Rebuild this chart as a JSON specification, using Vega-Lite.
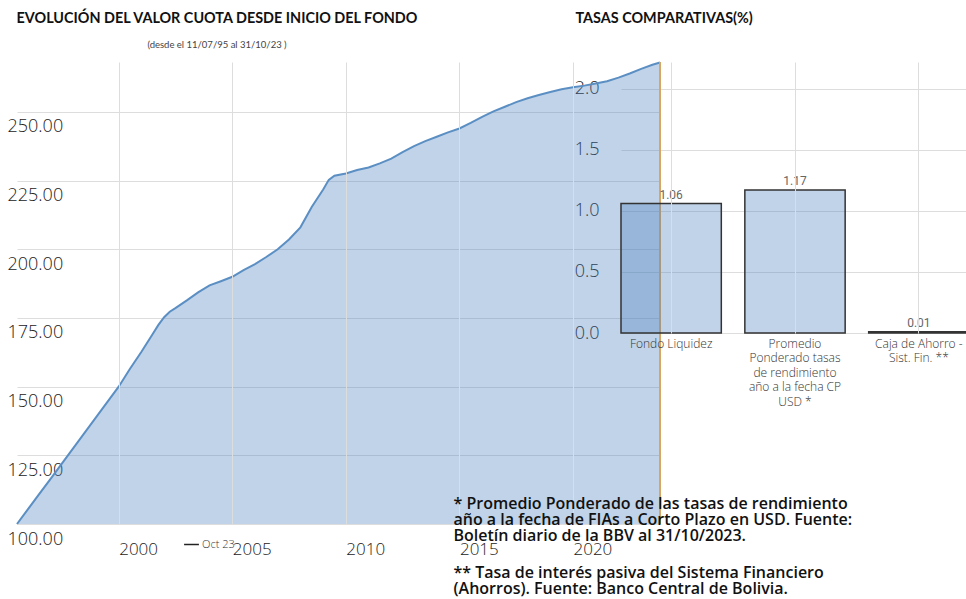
{
  "$schema": "https://vega.github.io/schema/vega-lite/v6.json",
  "autosize": "none",
  "width": 950,
  "height": 462,
  "padding": {"left": 16, "top": 62, "right": 0, "bottom": 75},
  "background": "white",
  "config": {"view": {"stroke": null}, "font": "Open Sans"},
  "title": {
    "text": "EVOLUCIÓN DEL VALOR CUOTA DESDE INICIO DEL FONDO",
    "subtitle": "(desde el 11/07/95 al 31/10/23 )",
    "anchor": "start",
    "align": "center",
    "frame": "group",
    "dx": 201,
    "offset": -40,
    "font": "Lato",
    "fontSize": 14.4,
    "fontWeight": "bold",
    "color": "#111111",
    "subtitleFont": "Lato",
    "subtitleFontSize": 9.5,
    "subtitleColor": "#444444",
    "subtitlePadding": 13
  },
  "resolve": {"scale": {"x": "independent", "y": "independent", "color": "independent"}, "axis": {"x": "independent", "y": "independent"}},
  "layer": [
    {
      "data": {"values": [
        {"fecha": "1995-07-11", "valor": 100.0},
        {"fecha": "1996-01-01", "valor": 105.3},
        {"fecha": "1996-07-01", "valor": 110.9},
        {"fecha": "1997-01-01", "valor": 116.4},
        {"fecha": "1997-07-01", "valor": 122.0},
        {"fecha": "1998-01-01", "valor": 127.6},
        {"fecha": "1998-07-01", "valor": 133.2},
        {"fecha": "1999-01-01", "valor": 138.8},
        {"fecha": "1999-07-01", "valor": 144.4},
        {"fecha": "2000-01-01", "valor": 150.0},
        {"fecha": "2000-07-01", "valor": 156.5},
        {"fecha": "2001-01-01", "valor": 162.7},
        {"fecha": "2001-07-01", "valor": 169.2},
        {"fecha": "2001-10-01", "valor": 172.5},
        {"fecha": "2002-01-01", "valor": 175.3},
        {"fecha": "2002-04-01", "valor": 177.3},
        {"fecha": "2002-07-01", "valor": 178.6},
        {"fecha": "2003-01-01", "valor": 181.4},
        {"fecha": "2003-07-01", "valor": 184.3},
        {"fecha": "2004-01-01", "valor": 186.9},
        {"fecha": "2004-07-01", "valor": 188.4},
        {"fecha": "2005-01-01", "valor": 190.0},
        {"fecha": "2005-07-01", "valor": 192.4},
        {"fecha": "2006-01-01", "valor": 194.6},
        {"fecha": "2006-07-01", "valor": 197.2},
        {"fecha": "2007-01-01", "valor": 200.0},
        {"fecha": "2007-07-01", "valor": 203.6},
        {"fecha": "2008-01-01", "valor": 208.0},
        {"fecha": "2008-07-01", "valor": 215.4},
        {"fecha": "2009-01-01", "valor": 221.8},
        {"fecha": "2009-04-01", "valor": 225.3},
        {"fecha": "2009-07-01", "valor": 226.8},
        {"fecha": "2010-01-01", "valor": 227.6},
        {"fecha": "2010-07-01", "valor": 228.9},
        {"fecha": "2011-01-01", "valor": 229.8},
        {"fecha": "2011-07-01", "valor": 231.3},
        {"fecha": "2012-01-01", "valor": 233.0},
        {"fecha": "2012-07-01", "valor": 235.4},
        {"fecha": "2013-01-01", "valor": 237.6},
        {"fecha": "2013-07-01", "valor": 239.4},
        {"fecha": "2014-01-01", "valor": 241.0},
        {"fecha": "2014-07-01", "valor": 242.6},
        {"fecha": "2015-01-01", "valor": 244.0},
        {"fecha": "2015-07-01", "valor": 246.0},
        {"fecha": "2016-01-01", "valor": 248.2},
        {"fecha": "2016-07-01", "valor": 250.2},
        {"fecha": "2017-01-01", "valor": 251.9},
        {"fecha": "2017-07-01", "valor": 253.6},
        {"fecha": "2018-01-01", "valor": 255.0},
        {"fecha": "2018-07-01", "valor": 256.2},
        {"fecha": "2019-01-01", "valor": 257.3},
        {"fecha": "2019-07-01", "valor": 258.3},
        {"fecha": "2020-01-01", "valor": 259.0},
        {"fecha": "2020-07-01", "valor": 259.6},
        {"fecha": "2021-01-01", "valor": 260.4},
        {"fecha": "2021-07-01", "valor": 261.2},
        {"fecha": "2022-01-01", "valor": 262.5},
        {"fecha": "2022-07-01", "valor": 264.0},
        {"fecha": "2023-01-01", "valor": 265.7},
        {"fecha": "2023-07-01", "valor": 267.2},
        {"fecha": "2023-10-31", "valor": 268.0}
      ]},
      "encoding": {
        "x": {
          "field": "fecha",
          "type": "temporal",
          "scale": {
            "type": "utc",
            "domain": [{"year": 1995, "month": 7, "date": 11, "utc": true}, {"year": 2023, "month": 10, "date": 31, "utc": true}],
            "range": [1, 644]
          },
          "axis": {
            "orient": "bottom",
            "zindex": 1,
            "values": [{"year": 2000, "utc": true}, {"year": 2005, "utc": true}, {"year": 2010, "utc": true}, {"year": 2015, "utc": true}, {"year": 2020, "utc": true}],
            "format": "%Y",
            "grid": true,
            "gridColor": "#dddddd",
            "gridWidth": 1,
            "domain": false,
            "ticks": false,
            "labelAlign": "left",
            "labelBaseline": "top",
            "labelPadding": 17,
            "labelFontSize": 17,
            "labelFontWeight": 300,
            "labelColor": "#222222",
            "title": ["** Tasa de interés pasiva del Sistema Financiero", "(Ahorros). Fuente: Banco Central de Bolivia."],
            "titleX": 437,
            "titleY": 53,
            "titleAlign": "left",
            "titleAnchor": "start",
            "titleBaseline": "alphabetic",
            "titleFontSize": 16,
            "titleFontWeight": 600,
            "titleColor": "#111111",
            "titleLineHeight": 16
          }
        },
        "y": {
          "field": "valor",
          "type": "quantitative",
          "scale": {"domain": [100, 268.2], "nice": false, "zero": false},
          "axis": {
            "orient": "left",
            "values": [100, 125, 150, 175, 200, 225, 250],
            "format": ".2f",
            "grid": true,
            "gridColor": "#dddddd",
            "gridWidth": 1,
            "domain": false,
            "ticks": false,
            "labelAlign": "left",
            "labelPadding": 9,
            "labelOffset": 15,
            "labelFontSize": 18,
            "labelFontWeight": 300,
            "labelColor": "#222222",
            "title": null
          }
        }
      },
      "layer": [
        {
          "mark": {
            "type": "area",
            "color": "#4a81bd",
            "fillOpacity": 0.35,
            "line": {"color": "#5b8fc3", "strokeWidth": 2}
          },
          "encoding": {"y2": {"datum": 100}}
        },
        {
          "mark": {"type": "rule", "strokeWidth": 2, "color": "#d9a662"},
          "encoding": {
            "x": {"datum": {"year": 2023, "month": 10, "date": 31, "utc": true}, "type": "temporal"},
            "y": null
          }
        },
        {
          "data": {"values": []},
          "mark": {"type": "rule", "strokeWidth": 2},
          "encoding": {
            "x": {"datum": {"year": 2023, "month": 10, "date": 31, "utc": true}, "type": "temporal"},
            "y": null,
            "color": {
              "datum": "Oct 23",
              "type": "nominal",
              "scale": {"range": ["#222222"]},
              "legend": {
                "orient": "none",
                "legendX": 167,
                "legendY": 474,
                "title": null,
                "padding": 0,
                "symbolType": "stroke",
                "symbolStrokeWidth": 1.5,
                "symbolSize": 220,
                "symbolOffset": 0,
                "labelOffset": 2,
                "labelFontSize": 11,
                "labelColor": "#333333",
                "labelBaseline": "middle",
                "labelFontWeight": 300
              }
            }
          }
        }
      ]
    },
    {
      "data": {"values": [
        {"categoria": "Fondo Liquidez", "tasa": 1.06},
        {"categoria": "Promedio Ponderado tasas de rendimiento año a la fecha CP USD *", "tasa": 1.17},
        {"categoria": "Caja de Ahorro - Sist. Fin. **", "tasa": 0.01}
      ]},
      "encoding": {
        "x": {
          "field": "categoria",
          "type": "nominal",
          "sort": null,
          "scale": {"range": [605, 953], "paddingInner": 0.19, "paddingOuter": 0},
          "axis": {
            "orient": "top",
            "zindex": 1,
            "grid": true,
            "gridColor": "#dddddd",
            "domain": false,
            "ticks": false,
            "labelAngle": 0,
            "labelAlign": "center",
            "labelBaseline": "top",
            "labelPadding": -276,
            "labelFontSize": 12,
            "labelFontWeight": 300,
            "labelColor": "#333333",
            "labelLineHeight": 14.5,
            "labelLimit": 0,
            "labelExpr": "datum.value == 'Promedio Ponderado tasas de rendimiento año a la fecha CP USD *' ? ['Promedio', 'Ponderado tasas', 'de rendimiento', 'año a la fecha CP', 'USD *'] : datum.value == 'Caja de Ahorro - Sist. Fin. **' ? ['Caja de Ahorro -', 'Sist. Fin. **'] : datum.value",
            "title": ["* Promedio Ponderado de las tasas de rendimiento", "año a la fecha de FIAs  a Corto Plazo en USD. Fuente:", "Boletín diario de la BBV al 31/10/2023."],
            "titleX": 437,
            "titleY": 446,
            "titleAlign": "left",
            "titleAnchor": "start",
            "titleBaseline": "alphabetic",
            "titleFontSize": 16,
            "titleFontWeight": 600,
            "titleColor": "#111111",
            "titleLineHeight": 16
          }
        },
        "y": {
          "field": "tasa",
          "type": "quantitative",
          "scale": {"domain": [0, 2.219], "range": [271, 0], "nice": false},
          "axis": {
            "orient": "left",
            "offset": -605,
            "values": [0, 0.5, 1, 1.5, 2],
            "format": ".1f",
            "grid": true,
            "gridColor": "#dddddd",
            "domain": false,
            "ticks": false,
            "labelPadding": 22,
            "labelFontSize": 18,
            "labelFontWeight": 300,
            "labelColor": "#222222",
            "title": "TASAS COMPARATIVAS(%)",
            "titleAngle": 0,
            "titleX": -46,
            "titleY": -44,
            "titleAlign": "left",
            "titleBaseline": "middle",
            "titleFont": "Lato",
            "titleFontSize": 14.4,
            "titleFontWeight": "bold",
            "titleColor": "#111111"
          }
        }
      },
      "layer": [
        {
          "mark": {"type": "bar", "fill": "#4a81bd", "fillOpacity": 0.35, "stroke": "#333333", "strokeWidth": 1.5}
        },
        {
          "mark": {"type": "text", "baseline": "alphabetic", "dy": -5, "fontSize": 12, "color": "#666666", "font": "Roboto"},
          "encoding": {"text": {"field": "tasa", "type": "quantitative", "format": ".2f"}}
        }
      ]
    }
  ]
}
